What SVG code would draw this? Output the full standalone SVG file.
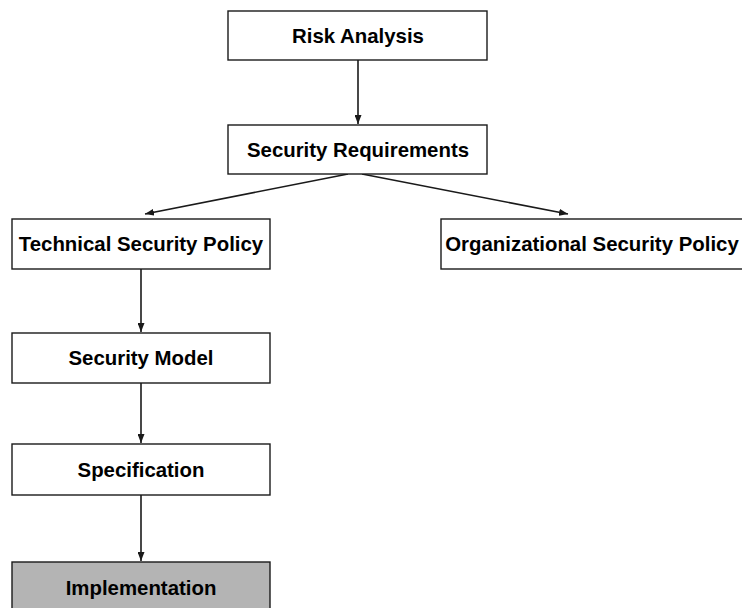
<svg xmlns="http://www.w3.org/2000/svg" width="742" height="608" viewBox="0 0 742 608">
  <style>
    .box { fill: #ffffff; stroke: #1a1a1a; stroke-width: 1.4; }
    .box.impl { fill: #b4b4b4; }
    .label { font-family: "Liberation Sans", Arial, sans-serif; font-weight: bold; font-size: 20.4px; fill: #000000; text-anchor: middle; }
    .edge { stroke: #1a1a1a; stroke-width: 1.6; fill: none; marker-end: url(#arrow); }
  </style>
  <defs>
    <marker id="arrow" viewBox="0 0 9 7" refX="9" refY="3.5" markerWidth="9" markerHeight="7" markerUnits="userSpaceOnUse" orient="auto">
      <path d="M0,0 L9,3.5 L0,7 Z" fill="#1a1a1a"/>
    </marker>
  </defs>
  <rect width="742" height="608" fill="#ffffff"/>

  <g id="connectors">
    <line class="edge" x1="358" y1="60" x2="358" y2="124"/>
    <line class="edge" x1="348" y1="174" x2="145" y2="214"/>
    <line class="edge" x1="362" y1="174" x2="568" y2="214"/>
    <line class="edge" x1="141" y1="269" x2="141" y2="332"/>
    <line class="edge" x1="141" y1="383" x2="141" y2="443"/>
    <line class="edge" x1="141" y1="495" x2="141" y2="561"/>
  </g>

  <g id="risk-analysis">
    <rect class="box" x="228" y="11" width="259" height="49"/>
    <text class="label" x="358" y="43">Risk Analysis</text>
  </g>
  <g id="security-requirements">
    <rect class="box" x="228" y="125" width="259" height="49"/>
    <text class="label" x="358" y="157">Security Requirements</text>
  </g>
  <g id="technical-security-policy">
    <rect class="box" x="12" y="219" width="258" height="50"/>
    <text class="label" x="141" y="251">Technical Security Policy</text>
  </g>
  <g id="organizational-security-policy">
    <rect class="box" x="441" y="219" width="310" height="50"/>
    <text class="label" x="592" y="251">Organizational Security Policy</text>
  </g>
  <g id="security-model">
    <rect class="box" x="12" y="333" width="258" height="50"/>
    <text class="label" x="141" y="365">Security Model</text>
  </g>
  <g id="specification">
    <rect class="box" x="12" y="444" width="258" height="51"/>
    <text class="label" x="141" y="477">Specification</text>
  </g>
  <g id="implementation">
    <rect class="box impl" x="12" y="562" width="258" height="50"/>
    <text class="label" x="141" y="595">Implementation</text>
  </g>
</svg>
